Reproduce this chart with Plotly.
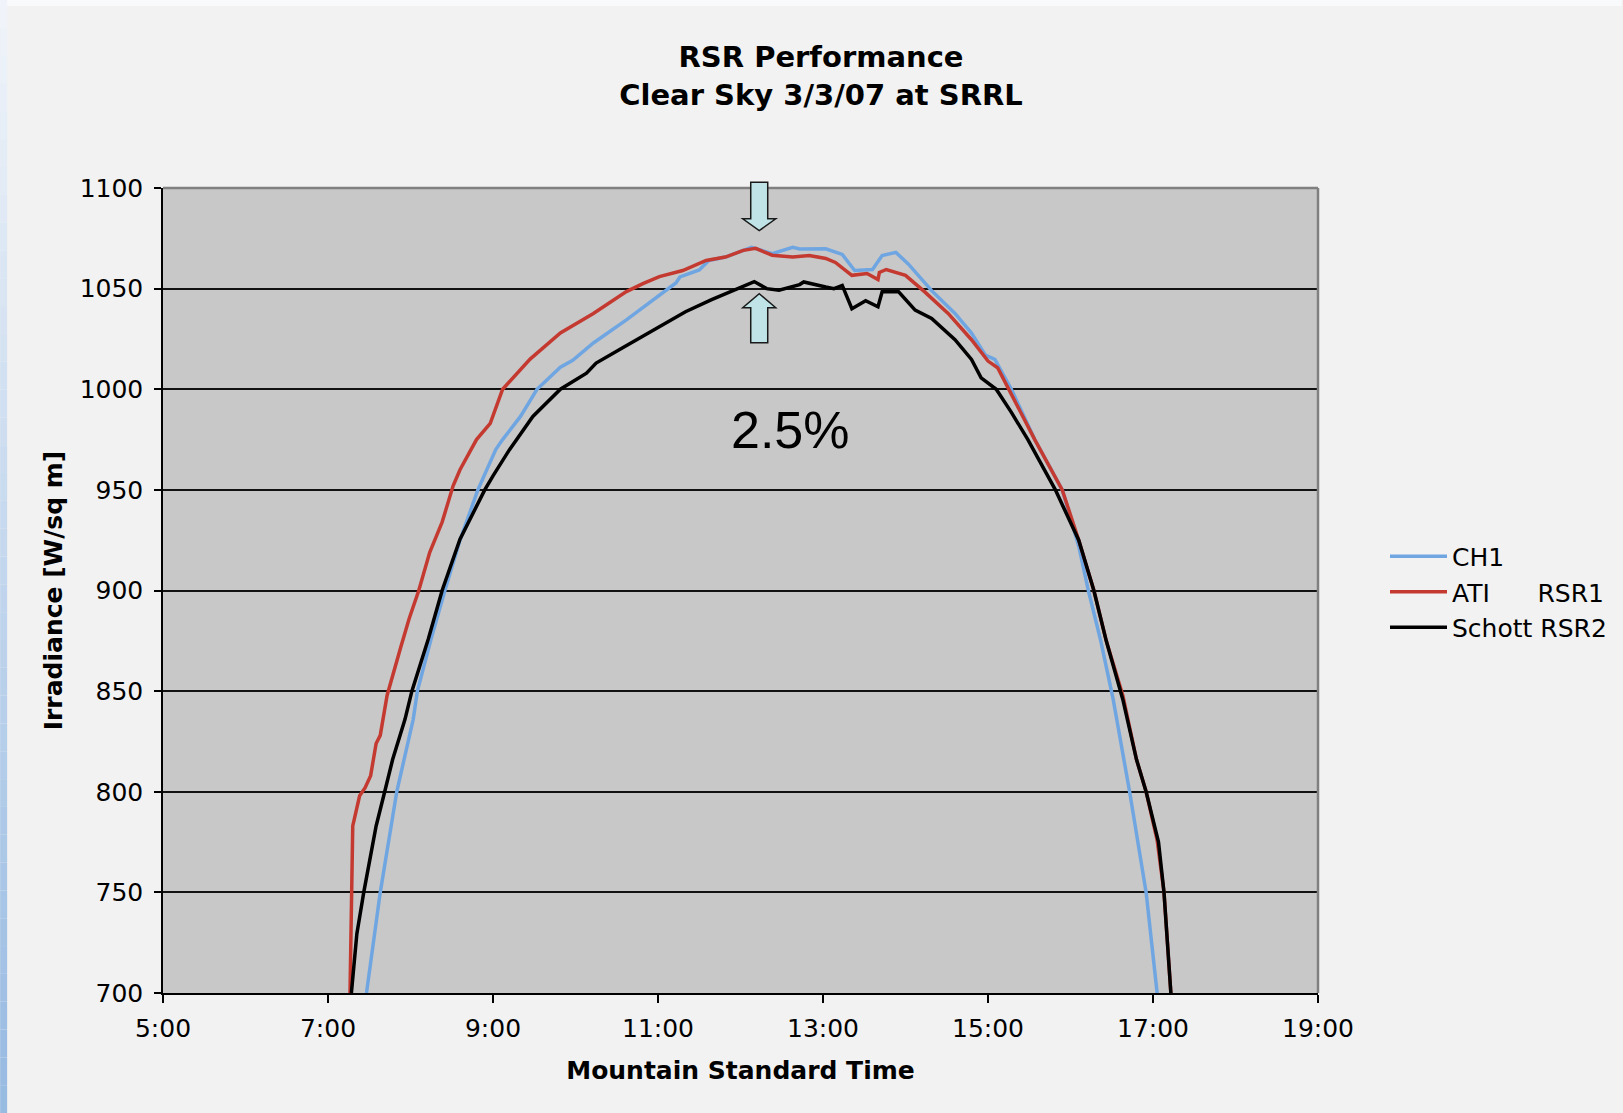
import plotly.graph_objects as go

# Clear-sky global irradiance, 3 March 2007, SRRL (Mountain Standard Time)
ch1_time = ["7:28", "7:38", "7:50", "8:02", "8:05", "8:15", "8:25", "8:36", "8:49", "9:02",
            "9:07", "9:20", "9:32", "9:49", "9:58", "10:13", "10:37", "11:01", "11:13", "11:16",
            "11:30", "11:37", "11:49", "12:08", "12:23", "12:38", "12:43", "13:02", "13:14", "13:23",
            "13:36", "13:43", "13:53", "14:02", "14:19", "14:36", "14:48", "14:58", "15:05", "15:17",
            "15:26", "15:34", "15:54", "16:06", "16:13", "16:22", "16:31", "16:43", "16:55", "17:03"]
ch1_wm2 = [700, 750, 800, 836, 850, 876, 900, 925, 950, 970,
           975, 986.5, 1000, 1011, 1014.4, 1023, 1034.5, 1046.5, 1052.8, 1055.8,
           1059.3, 1064, 1065.7, 1070.5, 1067.4, 1070.5, 1069.7, 1069.8, 1067, 1059,
           1059.5, 1066.4, 1068, 1062.3, 1049, 1037.7, 1027.9, 1017, 1014.8, 1000,
           987, 975, 950, 922, 900, 875, 846, 800, 750, 700]

ati_time = ["7:16", "7:17", "7:18", "7:23", "7:27", "7:31", "7:35", "7:38", "7:43", "7:53",
            "7:59", "8:06", "8:14", "8:23", "8:31", "8:36", "8:48", "8:58", "9:07", "9:27",
            "9:49", "10:13", "10:37", "10:49", "11:01", "11:18", "11:35", "11:49", "12:02", "12:11",
            "12:23", "12:38", "12:50", "13:02", "13:09", "13:21", "13:32", "13:40", "13:41", "13:46",
            "14:00", "14:14", "14:31", "14:48", "15:00", "15:07", "15:16", "15:34", "15:54", "16:06",
            "16:17", "16:26", "16:38", "16:48", "16:55", "17:03", "17:08", "17:13"]
ati_wm2 = [700, 750, 783, 798, 802, 808, 824, 828, 848, 872,
           886, 900, 919, 934, 952, 960, 975, 983, 1000, 1015,
           1028, 1037.6, 1048.5, 1052.5, 1056, 1059, 1064, 1065.7, 1069, 1070,
           1066.6, 1065.7, 1066.5, 1065, 1063, 1056.6, 1057.5, 1054.5, 1058, 1059.5,
           1056.6, 1048.4, 1037.7, 1024.6, 1014, 1010.7, 999, 975, 950, 925,
           900, 875, 848, 816, 800, 776, 750, 700]

schott_time = ["7:17", "7:21", "7:26", "7:32", "7:35", "7:41", "7:47", "7:56", "8:01", "8:13",
               "8:23", "8:36", "8:54", "9:00", "9:12", "9:29", "9:49", "10:08", "10:15", "10:34",
               "10:57", "11:01", "11:20", "11:39", "11:58", "12:10", "12:19", "12:24", "12:28", "12:43",
               "12:46", "13:02", "13:08", "13:14", "13:21", "13:31", "13:40", "13:43", "13:55", "14:07",
               "14:19", "14:36", "14:48", "14:55", "15:06", "15:17", "15:29", "15:49", "16:06", "16:17",
               "16:26", "16:38", "16:48", "16:55", "17:04", "17:08", "17:13"]
schott_wm2 = [700, 729.5, 750, 771, 783, 799.4, 816, 836, 850, 876,
              900, 925.5, 950, 957, 970, 986.5, 1000, 1008, 1013, 1020.5,
              1029.5, 1031.5, 1038.5, 1044.5, 1049.8, 1053.5, 1050, 1049.5, 1049.2, 1052,
              1053.3, 1050.8, 1050, 1051.6, 1040, 1044, 1041, 1048.4, 1048.4, 1039.3,
              1035.2, 1024.6, 1014.8, 1005.7, 1000, 988.5, 975, 950, 925, 900,
              875, 846, 816, 800, 775, 750, 700]

tick_hours = [5, 7, 9, 11, 13, 15, 17, 19]
tick_text = ["5:00", "7:00", "9:00", "11:00", "13:00", "15:00", "17:00", "19:00"]


def to_hours(stamp):
    h, m = stamp.split(":")
    return int(h) + int(m) / 60.0


Y_MIN, Y_MAX = 700, 1100


def yfrac(v):
    # irradiance value -> paper fraction of the plot area
    return (v - Y_MIN) / (Y_MAX - Y_MIN)


W, H = 1623, 1113
ML, MR, MT, MB = 163, 304, 188, 120
PW, PH = W - ML - MR, H - MT - MB


def px_x(px):
    return (px - ML) / PW


def px_y(py):
    return (H - MB - py) / PH


fig = go.Figure()

series = [
    ("CH1", ch1_time, ch1_wm2, "#6fa6e2"),
    ("ATI\u00a0\u00a0\u00a0\u00a0\u00a0\u00a0RSR1", ati_time, ati_wm2, "#c43a30"),
    ("Schott RSR2", schott_time, schott_wm2, "#000000"),
]
for name, times, vals, col in series:
    fig.add_trace(go.Scatter(
        x=[to_hours(t) for t in times], y=vals, mode="lines", name=name,
        line=dict(color=col, width=3.5), hoverinfo="skip"))

shapes = []

# white band along the top edge and shaded strip down the left edge
shapes.append(dict(type="rect", xref="paper", yref="paper",
                   x0=px_x(0), x1=px_x(W), y0=px_y(6), y1=px_y(0),
                   fillcolor="#f9fafc", line=dict(width=0), layer="below"))
n_seg = 40
for i in range(n_seg):
    t = i / (n_seg - 1)
    r = int(240 - (240 - 152) * t)
    g = int(244 - (244 - 187) * t)
    b = int(250 - (250 - 226) * t)
    y0 = H * i / n_seg
    y1 = H * (i + 1) / n_seg
    shapes.append(dict(type="rect", xref="paper", yref="paper",
                       x0=px_x(0), x1=px_x(7), y0=px_y(y1), y1=px_y(y0),
                       fillcolor=f"rgb({r},{g},{b})", line=dict(width=0), layer="below"))

# grey frame on the top and right sides of the plot area
shapes.append(dict(type="line", xref="paper", yref="paper", x0=0, x1=1, y0=1, y1=1,
                   line=dict(color="#808080", width=2.5)))
shapes.append(dict(type="line", xref="paper", yref="paper", x0=1, x1=1, y0=0, y1=1,
                   line=dict(color="#808080", width=2.5)))

# block arrows marking the gap between the peaks
ax = 12.227
sw, hw = 0.103, 0.20
d_top, d_base, d_tip = yfrac(1102.8), yfrac(1084.7), yfrac(1078.8)
u_tip, u_base, u_bot = yfrac(1047.5), yfrac(1040.5), yfrac(1023.1)
down_path = (f"M{ax - sw},{d_top} L{ax + sw},{d_top} L{ax + sw},{d_base} L{ax + hw},{d_base} "
             f"L{ax},{d_tip} L{ax - hw},{d_base} L{ax - sw},{d_base} Z")
up_path = (f"M{ax - sw},{u_bot} L{ax + sw},{u_bot} L{ax + sw},{u_base} L{ax + hw},{u_base} "
           f"L{ax},{u_tip} L{ax - hw},{u_base} L{ax - sw},{u_base} Z")
for p in (down_path, up_path):
    shapes.append(dict(type="path", xref="x", yref="paper", path=p,
                       fillcolor="#bfe3e6", line=dict(color="#1a1a1a", width=1.5)))

fig.update_layout(
    width=W, height=H,
    margin=dict(l=ML, r=MR, t=MT, b=MB),
    paper_bgcolor="#f2f2f2",
    plot_bgcolor="#c8c8c8",
    font=dict(family="DejaVu Sans, Verdana, sans-serif", size=25, color="#000000"),
    title=dict(text="<b>RSR Performance<br>Clear Sky 3/3/07 at SRRL</b>",
               x=821 / W, xref="container", xanchor="center",
               y=1 - 67 / H, yref="container", yanchor="middle",
               font=dict(family="DejaVu Sans, Verdana, sans-serif", size=29)),
    xaxis=dict(range=[5, 19], tickvals=tick_hours, ticktext=tick_text,
               showgrid=False, zeroline=False,
               showline=True, linecolor="#000000", linewidth=1.5,
               ticks="outside", ticklen=8, tickwidth=1.5, tickcolor="#000000",
               ticklabelstandoff=4,
               title=dict(text="<b>Mountain Standard Time</b>", standoff=20,
                          font=dict(size=25))),
    yaxis=dict(range=[Y_MIN, Y_MAX], dtick=50, tick0=700,
               showgrid=True, gridcolor="#111111", gridwidth=1.5, zeroline=False,
               showline=True, linecolor="#000000", linewidth=1.5,
               ticks="outside", ticklen=7, tickwidth=1.5, tickcolor="#000000",
               ticklabelstandoff=6,
               title=dict(text="<b>Irradiance [W/sq m]</b>", standoff=10,
                          font=dict(size=25))),
    legend=dict(x=px_x(1385), xanchor="left", y=px_y(592), yanchor="middle",
                bgcolor="rgba(0,0,0,0)", borderwidth=0, itemwidth=57,
                font=dict(family="DejaVu Sans, Verdana, sans-serif", size=25),
                tracegroupgap=0),
    shapes=shapes,
    annotations=[dict(x=12.61, y=980, xref="x", yref="y", text="2.5%", showarrow=False,
                      font=dict(family="Liberation Sans, Arial, sans-serif", size=52,
                                color="#000000"))],
    showlegend=True,
)

fig.write_html("out.html")
